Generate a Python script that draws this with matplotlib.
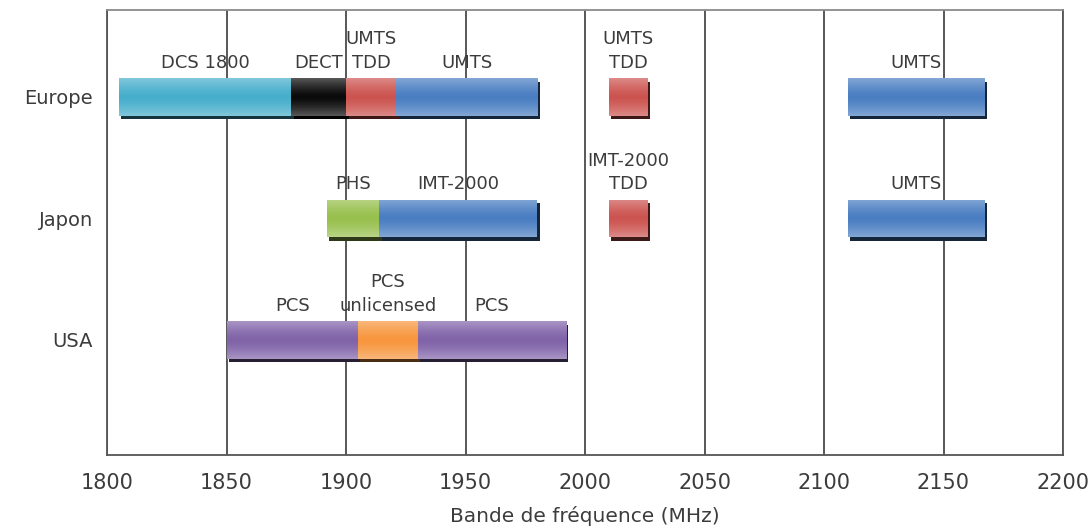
import numpy as np
import matplotlib
matplotlib.use("Agg")
import matplotlib.pyplot as plt
import matplotlib.transforms as mtransforms
from matplotlib.colors import to_rgb

# ---------------- data ----------------
categories = ["Europe", "Japon", "USA"]

europe_labels = ["DCS 1800", "DECT", "UMTS\nTDD", "UMTS", "UMTS\nTDD", "UMTS"]
europe_start = [1805, 1877, 1900, 1921, 2010, 2110]
europe_end = [1877, 1900, 1921, 1980, 2026, 2167]
europe_kind = ["dcs", "dect", "tdd", "umts", "tdd", "umts"]

japon_labels = ["PHS", "IMT-2000", "IMT-2000\nTDD", "UMTS"]
japon_start = [1892, 1914, 2010, 2110]
japon_end = [1914, 1980, 2026, 2167]
japon_kind = ["phs", "umts", "tdd", "umts"]

usa_labels = ["PCS", "PCS\nunlicensed", "PCS"]
usa_start = [1850, 1905, 1930]
usa_end = [1905, 1930, 1992]
usa_kind = ["pcs", "unlic", "pcs"]

x_ticks = [1800, 1850, 1900, 1950, 2000, 2050, 2100, 2150, 2200]
x_label = "Bande de fréquence (MHz)"

# ---------------- style ----------------
kind_colors = {
    "dcs": "#46AECB",
    "dect": "#0A0A0A",
    "tdd": "#CC5450",
    "umts": "#4A7EC2",
    "phs": "#98C04E",
    "pcs": "#8063A8",
    "unlic": "#F7963E",
}
text_color = "#3c3c3c"
plt.rcParams["font.family"] = ["DejaVu Sans"]

fig = plt.figure(figsize=(10.91, 5.28), dpi=100)
ax = fig.add_axes([107 / 1091, 1 - 455 / 528, (1063 - 107) / 1091, (455 - 10) / 528])

bar_h = 0.31
shadow_tr = ax.transData + mtransforms.ScaledTranslation(0.025, -0.035, fig.dpi_scale_trans)

t = np.linspace(0, 1, 64)
light = 0.32 * np.abs(2 * t - 1) ** 1.4

def gradient_img(color):
    c = np.array(to_rgb(color))
    img = c[None, :] * (1 - light[:, None]) + light[:, None] * 1.0
    return np.repeat(img[:, None, :], 2, axis=1)

rows = [
    (europe_labels, europe_start, europe_end, europe_kind),
    (japon_labels, japon_start, japon_end, japon_kind),
    (usa_labels, usa_start, usa_end, usa_kind),
]
n = len(categories)
for i, (labels, starts, ends, kinds) in enumerate(rows):
    y = n - 1 - i
    for lab, s, e, k in zip(labels, starts, ends, kinds):
        col = kind_colors[k]
        dark = tuple(np.array(to_rgb(col)) * 0.3)
        # shadow
        ax.barh(y, e - s, left=s, height=bar_h, color=dark, zorder=2,
                transform=shadow_tr, linewidth=0)
        # face
        bars = ax.barh(y, e - s, left=s, height=bar_h, color=col, zorder=3, linewidth=0)
        patch = bars.patches[0]
        im = ax.imshow(gradient_img(col), extent=[s, e, y - bar_h / 2, y + bar_h / 2],
                       origin="upper", aspect="auto", interpolation="bilinear", zorder=4)
        im.set_clip_path(patch)
        ax.annotate(lab, xy=((s + e) / 2, y + bar_h / 2), xytext=(0, 7.5),
                    textcoords="offset points", ha="center", va="baseline",
                    multialignment="center", fontsize=13, color=text_color,
                    linespacing=1.4, zorder=5)

ax.set_xlim(x_ticks[0], x_ticks[-1])
ax.set_ylim(-0.947, 2.716)
ax.set_xticks(x_ticks)
ax.set_xticklabels([str(v) for v in x_ticks])
ax.set_yticks(range(n))
ax.set_yticklabels(categories[::-1])
ax.tick_params(axis="x", length=0, pad=13, labelsize=15, labelcolor=text_color)
ax.tick_params(axis="y", length=0, pad=10, labelsize=14, labelcolor=text_color)
ax.xaxis.grid(True, color="#4a4a4a", linewidth=1.3, zorder=1)
ax.set_axisbelow(True)
for side, sp in ax.spines.items():
    sp.set_color("#555555")
    sp.set_linewidth(1.3)
ax.spines["top"].set_color("#8a8a8a")
ax.set_xlabel(x_label, fontsize=14.5, color=text_color, labelpad=9)

fig.savefig("out.png", dpi=100, facecolor="white")
